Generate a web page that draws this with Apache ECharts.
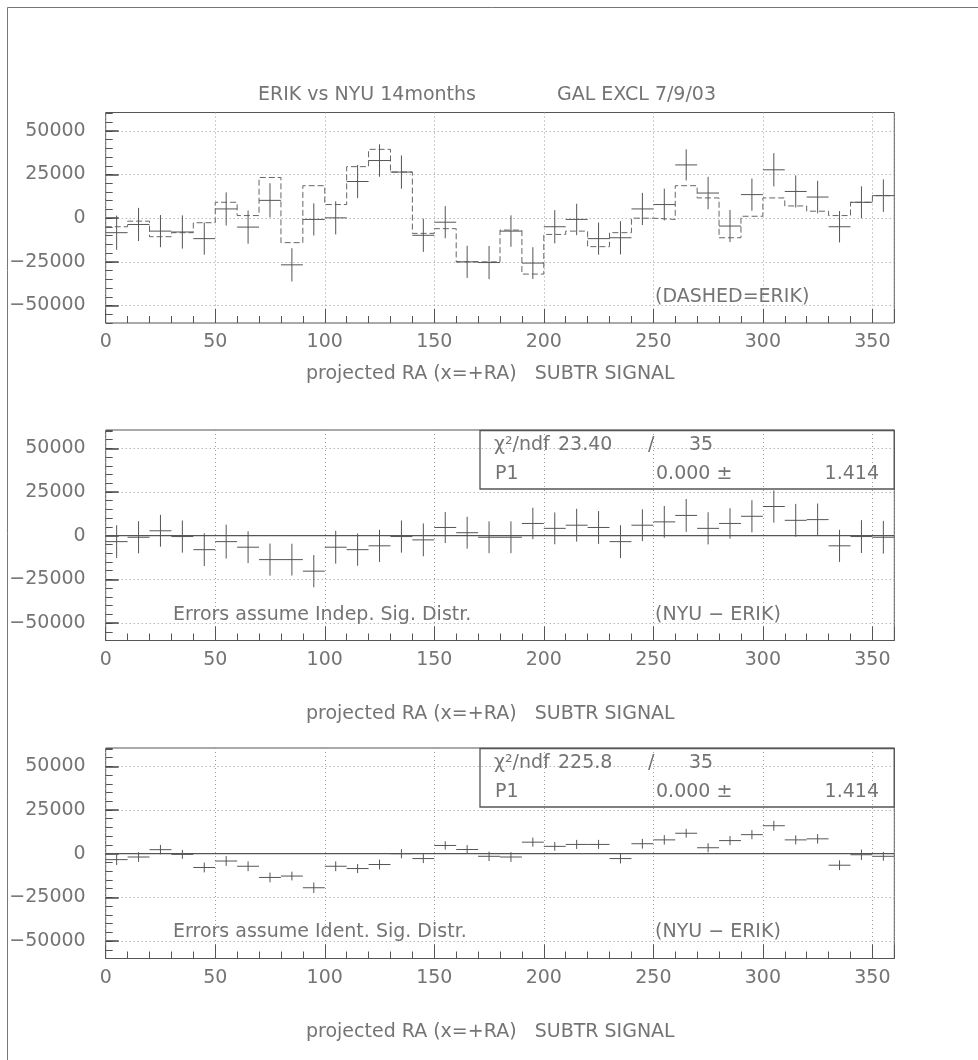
<!DOCTYPE html>
<html><head><meta charset="utf-8">
<script src="https://cdn.jsdelivr.net/npm/echarts@6/dist/echarts.min.js"></script>
<style>html,body{margin:0;padding:0;background:#fff}#c{width:978px;height:1060px}</style>
</head><body><div id="c"></div>
<script>
// ---------- data ----------
const RA_CENTERS = [5,15,25,35,45,55,65,75,85,95,105,115,125,135,145,155,165,175,185,195,205,215,225,235,245,255,265,275,285,295,305,315,325,335,345,355];
const BIN_WIDTH = 10;
const X_TICKS = [0,50,100,150,200,250,300,350];
const Y_TICKS = [-50000,-25000,0,25000,50000];

// top panel: NYU (crosses) and ERIK (dashed histogram)
const NYU = [-8300,-3600,-7400,-7900,-11700,5300,-5100,10200,-26700,-700,200,21000,33000,26400,-9800,-2300,-25000,-25400,-7400,-25700,-4900,-700,-11700,-11200,5300,7800,30500,14400,-4500,13500,27700,15300,12100,-4900,9100,12900];
const NYU_ERR = [9800,9500,9200,9500,9200,9500,9500,9800,9500,9200,9500,9500,9300,9500,9500,9200,9200,9500,9000,9100,9500,9000,9200,9500,9200,9100,8900,9300,9200,9200,9500,9200,9300,9000,9100,9300];
const ERIK = [-4900,-1700,-10600,-8300,-2600,9100,1500,23300,-14000,18600,7800,29500,39400,26400,-8700,-6000,-25000,-25000,-6800,-32000,-9300,-7400,-16300,-8300,0,-700,18600,11600,-11200,1100,11600,7000,4000,1500,9100,12900];

// middle panel: NYU - ERIK, errors assume independent signal distributions
const DIFF_INDEP = [-3400,-900,2800,-500,-8000,-3400,-6600,-13700,-13700,-20300,-6600,-8000,-5800,-500,-2400,4700,1700,-900,-900,7000,4200,6000,4700,-3400,6000,7900,11600,4200,7000,11100,16700,8800,9200,-5800,-500,-900];
const DIFF_INDEP_ERR = [9400,9200,9100,9200,9400,9700,9100,9200,9100,9200,9400,9200,9200,9200,9400,8900,9100,9100,9100,9000,9100,9400,9400,9400,9100,9100,9400,9200,8700,9200,9200,9400,9200,9200,9400,9400];

// bottom panel: NYU - ERIK, errors assume identical signal distributions
const DIFF_IDENT = [-3400,-1900,2300,-400,-7900,-4200,-7200,-13600,-12800,-19500,-7200,-8500,-6200,0,-2800,4700,2400,-1500,-1900,6600,4200,5300,5300,-2800,5700,7900,11700,3400,7500,10900,16000,7900,8500,-6600,-600,-1500];
const DIFF_IDENT_ERR = [3100,2800,2700,2600,2800,2800,2800,2800,2500,3000,2800,2600,2800,2600,2600,2400,2500,2700,2800,2600,2500,2600,2600,2800,2800,2700,2500,2600,2600,2600,2800,2600,2700,2800,3000,2500];

// fit results (constant P1)
const FIT_NAMES = ['χ²/ndf', 'P1'];
const FIT_INDEP = ['23.40', '35', '0.000', '1.414'];
const FIT_IDENT = ['225.8', '35', '0.000', '1.414'];
const FIT_P1 = [0.0, 0.0];

// ---------- layout ----------
const FONT = '"DejaVu Sans", sans-serif';
const TXT = '#747474';
const LINE = '#555';
const GRIDC = '#9a9a9a';
const PLOT_L = 105.7, PLOT_R = 978 - 894.3;
const PANEL_TOPS = [112.5, 430, 748];
const PANEL_H = 210.5;
const YMIN = -60000, YMAX = 60500;
const K = PANEL_H / (YMAX - YMIN);

const grids = [], xAxes = [], yAxes = [], series = [];

function crossItem(params, api) {
  const x = api.value(0), y = api.value(1), e = api.value(2);
  const l = api.coord([x - BIN_WIDTH / 2, y]), r = api.coord([x + BIN_WIDTH / 2, y]);
  const t = api.coord([x, y + e]), b = api.coord([x, y - e]);
  return { type: 'group', children: [
    { type: 'line', shape: { x1: l[0], y1: l[1], x2: r[0], y2: r[1] }, style: { stroke: LINE, lineWidth: 1 } },
    { type: 'line', shape: { x1: t[0], y1: t[1], x2: b[0], y2: b[1] }, style: { stroke: LINE, lineWidth: 1 } }
  ] };
}

PANEL_TOPS.forEach((T, p) => {
  grids.push({ left: PLOT_L, right: PLOT_R, top: T, height: PANEL_H, show: true, borderColor: LINE, borderWidth: 1, backgroundColor: 'transparent' });
  grids.push({ left: PLOT_L, right: PLOT_R, top: T + (YMAX - 50000) * K, height: 100000 * K, show: false });
  const g0 = 2 * p, g1 = 2 * p + 1;
  // minor x ticks
  xAxes.push({ type: 'value', gridIndex: g0, min: 0, max: 360, interval: 10, position: 'bottom',
    axisLine: { show: false, onZero: false }, axisTick: { show: true, inside: true, length: 7, lineStyle: { color: LINE } },
    axisLabel: { show: false }, splitLine: { show: false } });
  // major x ticks + labels + vertical dotted grid
  xAxes.push({ type: 'value', gridIndex: g0, min: 0, max: 360, interval: 50, position: 'bottom',
    axisLine: { show: false, onZero: false }, axisTick: { show: true, inside: true, length: 14, lineStyle: { color: LINE } },
    axisLabel: { show: true, margin: 10, color: TXT, fontFamily: FONT, fontSize: 19,
      formatter: v => X_TICKS.includes(v) ? String(v) : '' },
    splitLine: { show: true, lineStyle: { color: GRIDC, type: [1, 3], width: 1 } } });
  // hidden x for label grid
  xAxes.push({ type: 'value', gridIndex: g1, min: 0, max: 360, show: false, axisLine: { onZero: false } });
  // minor y ticks
  yAxes.push({ type: 'value', gridIndex: g0, min: YMIN, max: YMAX, interval: 5000,
    axisLine: { show: false, onZero: false }, axisTick: { show: true, inside: true, length: 7, lineStyle: { color: LINE } },
    axisLabel: { show: false }, splitLine: { show: false } });
  // major y ticks + labels + horizontal dotted grid
  yAxes.push({ type: 'value', gridIndex: g1, min: -50000, max: 50000, interval: 25000,
    axisLine: { show: false, onZero: false }, axisTick: { show: true, inside: true, length: 13, lineStyle: { color: '#444', width: 1.5 } },
    axisLabel: { show: true, margin: 20, color: TXT, fontFamily: FONT, fontSize: 19,
      formatter: v => Y_TICKS.includes(v) ? (v < 0 ? '\u2212' + Math.abs(v) : String(v)) : '' },
    splitLine: { show: true, lineStyle: { color: GRIDC, type: [1, 3], width: 1 } } });
});

function crossData(vals, errs) { return RA_CENTERS.map((c, i) => [c, vals[i], errs[i]]); }

// panel 1
series.push({ type: 'line', xAxisIndex: 0, yAxisIndex: 0, step: 'end', symbol: 'none', silent: true,
  data: RA_CENTERS.map((c, i) => [c - BIN_WIDTH / 2, ERIK[i]]).concat([[RA_CENTERS[RA_CENTERS.length - 1] + BIN_WIDTH / 2, ERIK[ERIK.length - 1]]]),
  lineStyle: { color: '#666', width: 1, type: [6, 3] }, z: 3 });
series.push({ type: 'custom', xAxisIndex: 0, yAxisIndex: 0, renderItem: crossItem, data: crossData(NYU, NYU_ERR),
  encode: { x: 0, y: 1 }, clip: true, z: 4 });
// panel 2
series.push({ type: 'line', xAxisIndex: 3, yAxisIndex: 2, symbol: 'none', silent: true,
  data: [[0, FIT_P1[0]], [360, FIT_P1[0]]], lineStyle: { color: LINE, width: 1.3 }, z: 3 });
series.push({ type: 'custom', xAxisIndex: 3, yAxisIndex: 2, renderItem: crossItem, data: crossData(DIFF_INDEP, DIFF_INDEP_ERR),
  encode: { x: 0, y: 1 }, clip: true, z: 4 });
// panel 3
series.push({ type: 'line', xAxisIndex: 6, yAxisIndex: 4, symbol: 'none', silent: true,
  data: [[0, FIT_P1[1]], [360, FIT_P1[1]]], lineStyle: { color: LINE, width: 1.3 }, z: 3 });
series.push({ type: 'custom', xAxisIndex: 6, yAxisIndex: 4, renderItem: crossItem, data: crossData(DIFF_IDENT, DIFF_IDENT_ERR),
  encode: { x: 0, y: 1 }, clip: true, z: 4 });

function txt(s, x, y, align) {
  return { type: 'text', x: x, y: y, silent: true, z: 10,
    style: { text: s, fill: TXT, font: '19px ' + FONT, align: align || 'left', verticalAlign: 'middle' } };
}
function hline(x1, y1, x2, y2) {
  return { type: 'line', silent: true, shape: { x1, y1, x2, y2 }, style: { stroke: '#777', lineWidth: 1 } };
}
function statBox(top, fit) {
  return [
    { type: 'rect', silent: true, shape: { x: 480, y: top, width: 414.3, height: 58.5 }, style: { fill: 'none', stroke: LINE, lineWidth: 1.3 }, z: 9 },
    txt(FIT_NAMES[0], 494, top + 15),
    txt(fit[0], 558, top + 15),
    txt('/', 648, top + 15),
    txt(fit[1], 689, top + 15),
    txt(FIT_NAMES[1], 495, top + 44),
    txt(fit[2] + ' \u00b1', 656, top + 44),
    txt(fit[3], 879, top + 44, 'right')
  ];
}
const AXNAME = 'projected RA (x=+RA)   SUBTR SIGNAL';
const graphic = [
  hline(7.5, 7.5, 978, 7.5),
  hline(7.5, 7.5, 7.5, 1060),
  txt('ERIK vs NYU 14months', 258, 95),
  txt('GAL EXCL 7/9/03', 557, 95),
  txt(AXNAME, 306, 374),
  txt(AXNAME, 306, 714),
  txt(AXNAME, 306, 1032),
  txt('(DASHED=ERIK)', 655, 297),
  txt('Errors assume Indep. Sig. Distr.', 173, 615),
  txt('(NYU \u2212 ERIK)', 655, 615),
  txt('Errors assume Ident. Sig. Distr.', 173, 932),
  txt('(NYU \u2212 ERIK)', 655, 932)
].concat(statBox(430.5, FIT_INDEP), statBox(748.5, FIT_IDENT));

const chart = echarts.init(document.getElementById('c'), null, { renderer: 'canvas' });
chart.setOption({
  animation: false,
  backgroundColor: '#fff',
  grid: grids, xAxis: xAxes, yAxis: yAxes, series: series, graphic: graphic
});
</script></body></html>
